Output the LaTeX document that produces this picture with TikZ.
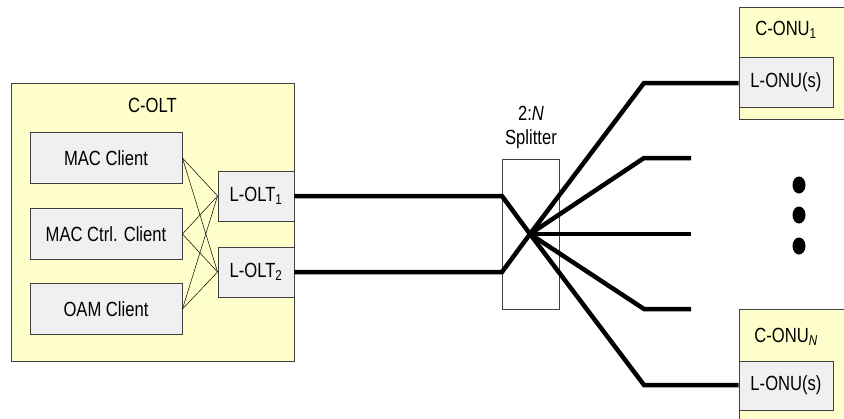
\documentclass[tikz,border=0pt]{standalone}
\usepackage{fontspec}
\setmainfont{Liberation Sans}[FakeStretch=0.81]
\usetikzlibrary{shapes.geometric}
\begin{document}
\begin{tikzpicture}[x=1pt,y=-1pt,
  font=\fontsize{20.5}{24}\selectfont,
  ybox/.style={draw=black!75,line width=0.9pt,fill=yellowfill},
  gbox/.style={draw=black!75,line width=0.9pt,fill=grayfill,inner sep=0pt},
  fiber/.style={line width=4.5pt,line join=miter},
  xlink/.style={line width=0.5pt},
  lbl/.style={inner sep=0pt},
  dotmark/.style={fill=black,ellipse,minimum width=13pt,minimum height=17pt,inner sep=0pt}]
\definecolor{yellowfill}{RGB}{255,255,204}
\definecolor{grayfill}{RGB}{240,240,240}
\useasboundingbox (0,0) rectangle (844,418);
\clip (0,0) rectangle (844,418);
% C-OLT
\node[ybox,minimum width=283pt,minimum height=278pt] (colt) at (152.5,222) {};
\node[lbl] (coltlbl) at (152.5,105) {C-OLT};
\node[gbox,minimum width=152pt,minimum height=51pt] (mac) at (106,158) {MAC Client};
\node[gbox,minimum width=152pt,minimum height=51pt] (ctrl) at (106,234) {MAC Ctrl. Client};
\node[gbox,minimum width=152pt,minimum height=51pt] (oam) at (106,309) {OAM Client};
\node[gbox,minimum width=76pt,minimum height=50pt] (lolt1) at (256,196) {L-OLT\textsubscript{1}};
\node[gbox,minimum width=76pt,minimum height=50pt] (lolt2) at (256,272) {L-OLT\textsubscript{2}};
\foreach \c in {mac,ctrl,oam}{
  \draw[xlink] (\c.east) -- (lolt1.west);
  \draw[xlink] (\c.east) -- (lolt2.west);
}
% Splitter
\node[draw=black!75,line width=0.9pt,minimum width=57pt,minimum height=150pt] (split) at (530.5,234) {};
\node[lbl] (nlbl) at (531,113) {2:\textit{N}};
\node[lbl] (slbl) at (531,139) {Splitter};
\coordinate (ctr) at (530,234);
% ONUs
\node[ybox,minimum width=121pt,minimum height=112pt] (conu1) at (799.5,63) {};
\node[lbl] (conu1lbl) at (786,30) {C-ONU\textsubscript{1}};
\node[gbox,minimum width=94pt,minimum height=50pt] (lonu1) at (786,82) {L-ONU(s)};
\node[ybox,minimum width=121pt,minimum height=121pt] (conuN) at (799.5,369.5) {};
\node[lbl] (conuNlbl) at (786,337) {C-ONU\textsubscript{\textit{N}}};
\node[gbox,minimum width=94pt,minimum height=49pt] (lonuN) at (786,385.5) {L-ONU(s)};
% fibers
\coordinate (in1) at (502,196);
\coordinate (in2) at (502,272);
\coordinate (b1) at (644,83);
\coordinate (b2) at (644,158);
\coordinate (e2) at (691,158);
\coordinate (e3) at (691,234);
\coordinate (b4) at (644,309);
\coordinate (e4) at (691,309);
\coordinate (b5) at (644,385);
\draw[fiber] (lolt1.east) -- (in1) -- (ctr);
\draw[fiber] (lolt2.east) -- (in2) -- (ctr);
\draw[fiber] (ctr) -- (b1) -- (lonu1.west |- b1);
\draw[fiber] (ctr) -- (b2) -- (e2);
\draw[fiber] (ctr) -- (e3);
\draw[fiber] (ctr) -- (b4) -- (e4);
\draw[fiber] (ctr) -- (b5) -- (lonuN.west |- b5);
% dots
\foreach \y/\n in {185/d1,215/d2,246/d3}
  \node[dotmark] (\n) at (799,\y) {};
\end{tikzpicture}
\end{document}
